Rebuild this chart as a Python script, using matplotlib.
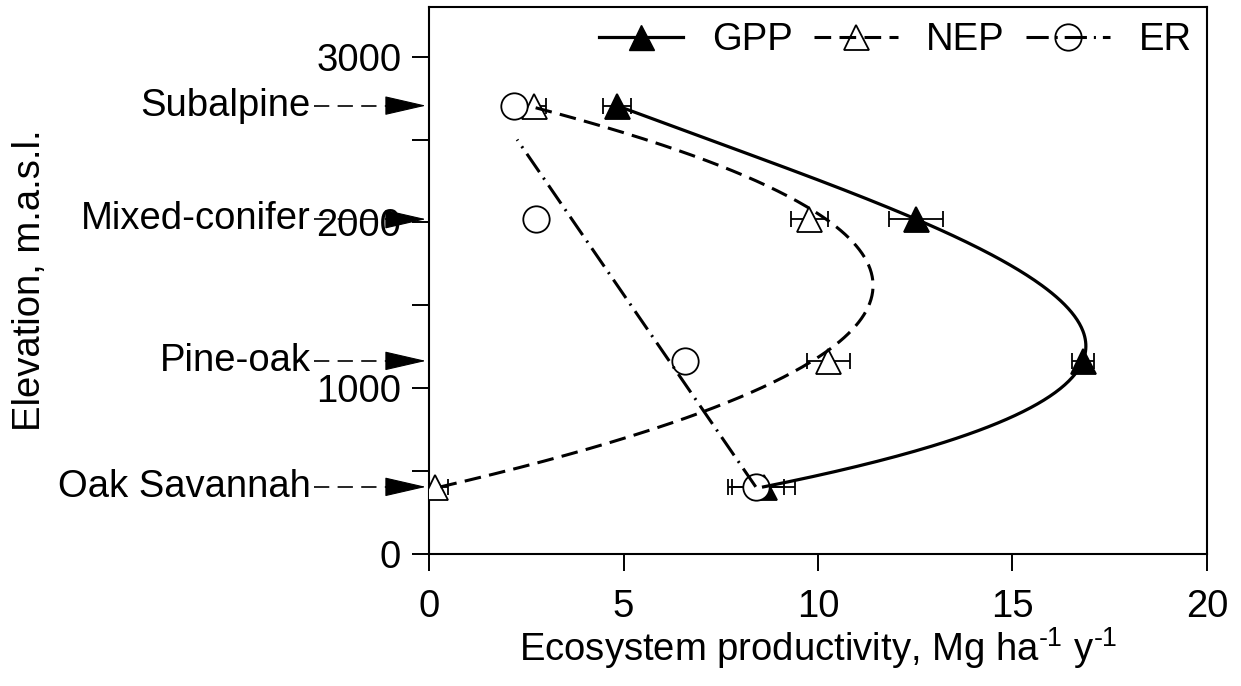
import numpy as np
import matplotlib
matplotlib.use("Agg")
import matplotlib.pyplot as plt
from matplotlib.lines import Line2D

plt.rcParams["font.family"] = ["Liberation Sans", "DejaVu Sans"]
plt.rcParams["mathtext.fontset"] = "custom"
plt.rcParams["mathtext.rm"] = "Liberation Sans"
plt.rcParams["mathtext.it"] = "Liberation Sans:italic"
plt.rcParams["mathtext.default"] = "regular"
plt.rcParams["lines.scale_dashes"] = False

# Sites along the elevation gradient
sites = ["Subalpine", "Mixed-conifer", "Pine-oak", "Oak Savannah"]
elevation = [2705, 2020, 1165, 405]          # m a.s.l.

# Ecosystem fluxes, Mg ha-1 y-1 (mean and error)
gpp = [4.83, 12.52, 16.81, 8.60]
gpp_err = [0.36, 0.69, 0.28, 0.80]
nep = [2.70, 9.78, 10.26, 0.15]
nep_err = [0.30, 0.48, 0.55, 0.35]
er = [2.18, 2.75, 6.57, 8.41]
er_err = [0.0, 0.0, 0.0, 0.72]

x_ticks = [0, 5, 10, 15, 20]
y_ticks = [0, 1000, 2000, 3000]
y_minor = [500, 1500, 2500]

FS = 27.5
ER_FIT_TOP = 2500

fig = plt.figure(figsize=(12.41, 6.86), dpi=100)
ax = fig.add_axes([429 / 1241, (686 - 554) / 686, (1207 - 429) / 1241, (554 - 7) / 686])

ax.set_xlim(0, 20)
ax.set_ylim(0, 3300)
ax.set_xticks(x_ticks)
ax.set_yticks(y_ticks)
ax.set_yticks(y_minor, minor=True)
ax.tick_params(axis="both", which="both", direction="out", length=12, width=1.4,
               labelsize=FS)
ax.tick_params(axis="x", pad=13)
ax.tick_params(axis="y", pad=8)
for sp in ax.spines.values():
    sp.set_linewidth(1.5)

el = np.array(elevation, dtype=float)

# Error bars (only where an error is reported)
def xerrbars(xv, ev):
    xv = np.asarray(xv, float)
    ev = np.asarray(ev, float)
    m = ev > 0
    ax.errorbar(xv[m], el[m], xerr=ev[m], fmt="none", ecolor="k",
                elinewidth=1.3, capsize=6, capthick=1.3, zorder=2)

xerrbars(gpp, gpp_err)
xerrbars(nep, nep_err)
xerrbars(er, er_err)

# Site markers
ax.plot(gpp, el, ls="none", marker="^", ms=18, mfc="k", mec="k", mew=1.3, zorder=3)
ax.plot(nep, el, ls="none", marker="^", ms=18, mfc="white", mec="k", mew=1.3, zorder=3)
ax.plot(er, el, ls="none", marker="o", ms=19, mfc="white", mec="k", mew=1.3, zorder=3)

# Fitted curves, x as a function of elevation
ys = np.linspace(el.min(), el.max(), 300)
gpp_fit = np.polyval(np.polyfit(el, gpp, 3), ys)
nep_fit = np.polyval(np.polyfit(el, nep, 2), ys)
ys_er = np.linspace(el.min(), ER_FIT_TOP, 100)
er_fit = np.polyval(np.polyfit(el, er, 1), ys_er)

GPP_LS = "-"
NEP_LS = (0, (12, 6))
ER_LS = (0, (16, 5, 1.5, 5))

ax.plot(gpp_fit, ys, color="k", lw=2.3, ls=GPP_LS, zorder=4)
ax.plot(nep_fit, ys, color="k", lw=2.2, ls=NEP_LS, zorder=4)
ax.plot(er_fit, ys_er, color="k", lw=2.2, ls=ER_LS, zorder=4)

# Site labels with dashed pointer arrows to the elevation axis
ytrans = ax.get_yaxis_transform()
X_TEXT, X_LINE, X_HEAD, X_TIP = -0.1517, -0.1475, -0.0535, -0.004
for name, e in zip(sites, elevation):
    ax.text(X_TEXT, e, name, transform=ytrans, ha="right", va="center",
            fontsize=FS, clip_on=False)
    ax.plot([X_LINE, X_HEAD + 0.003], [e, e], transform=ytrans, color="k",
            lw=1.2, ls=(0, (11, 6)), clip_on=False, solid_capstyle="butt")
    ax.annotate("", xy=(X_TIP, e), xycoords=("axes fraction", "data"),
                xytext=(X_HEAD, e), textcoords=("axes fraction", "data"),
                arrowprops=dict(arrowstyle="-|>,head_length=2.7,head_width=0.62",
                                mutation_scale=10, lw=0.8, color="k",
                                shrinkA=0, shrinkB=0),
                annotation_clip=False)

handles = [
    Line2D([], [], color="k", lw=2.3, ls=GPP_LS, marker="^", ms=18, mfc="k", mec="k"),
    Line2D([], [], color="k", lw=2.2, ls=NEP_LS, marker="^", ms=18, mfc="none", mec="k", mew=1.3),
    Line2D([], [], color="k", lw=2.2, ls=ER_LS, marker="o", ms=19, mfc="none", mec="k", mew=1.3),
]
ax.legend(handles, ["GPP", "NEP", "ER"], loc="upper right", ncol=3, frameon=False,
          fontsize=FS, handlelength=2.2, handletextpad=0.75, columnspacing=0.55,
          borderaxespad=0.1, borderpad=0.3, bbox_to_anchor=(1.0, 1.0))

ax.set_xlabel("Ecosystem productivity, Mg ha$^{\u20101}$ y$^{\u20101}$", fontsize=FS)
ax.set_ylabel("Elevation, m.a.s.l.", fontsize=FS)
ax.xaxis.set_label_coords(0.5, -0.13)
ax.yaxis.set_label_coords(-0.49, 0.5)

fig.savefig("out.png", dpi=100)
